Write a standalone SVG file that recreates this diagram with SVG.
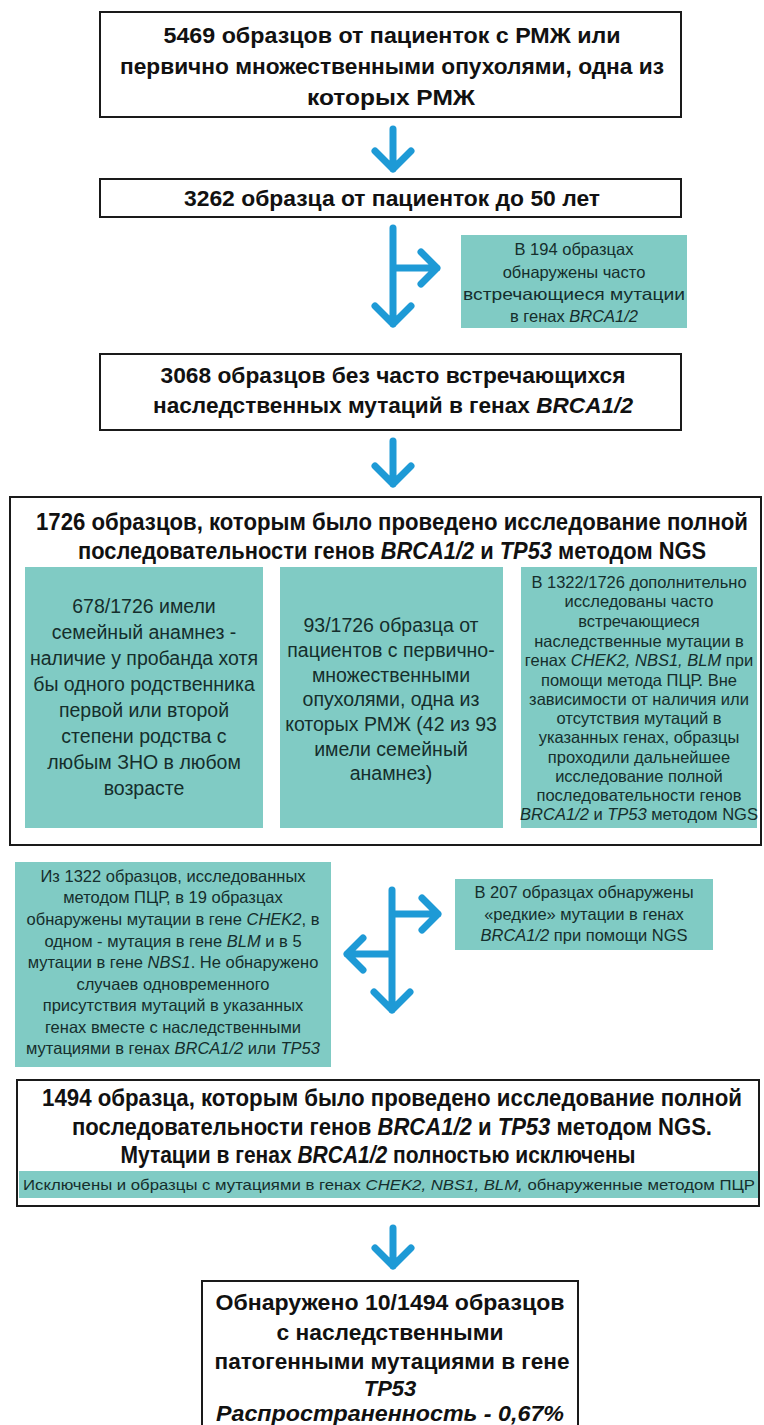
<svg xmlns="http://www.w3.org/2000/svg" width="764" height="1425" viewBox="0 0 764 1425">
<style>
.box{fill:#fff;stroke:#1a1a1a;stroke-width:2}
.gbox{fill:#80CBC4;stroke:none}
.h{font-family:"Liberation Sans",Arial,sans-serif;font-weight:bold;font-size:22px;fill:#111;text-anchor:middle}
.hn{font-family:"Liberation Sans Narrow","Liberation Sans",Arial,sans-serif;font-weight:bold;font-size:23px;fill:#111;text-anchor:middle}
.g{font-family:"Liberation Sans",Arial,sans-serif;font-size:19.5px;fill:#152e2c;text-anchor:middle}
.gs{font-family:"Liberation Sans",Arial,sans-serif;font-size:16.5px;fill:#152e2c;text-anchor:middle}
.arr{fill:none;stroke:#1E9AD6;stroke-width:7;stroke-linecap:round;stroke-linejoin:round}
</style>
<rect width="764" height="1425" fill="#fff"/>

<g id="n1">
<rect class="box" x="100" y="12" width="581" height="105"/>
<text class="h" x="392" y="43" textLength="457" lengthAdjust="spacingAndGlyphs">5469 образцов от пациенток с РМЖ или</text>
<text class="h" x="392" y="74" textLength="544" lengthAdjust="spacingAndGlyphs">первично множественными опухолями, одна из</text>
<text class="h" x="391" y="105" textLength="168" lengthAdjust="spacingAndGlyphs">которых РМЖ</text>
</g>

<g id="n2">
<rect class="box" x="100" y="179" width="581" height="38"/>
<text class="h" x="392" y="206" textLength="416" lengthAdjust="spacingAndGlyphs">3262 образца от пациенток до 50 лет</text>
</g>

<g id="n3">
<rect class="gbox" x="461" y="235" width="226" height="93"/>
<text class="gs" x="574" y="255" font-size="17.5">В 194 образцах</text>
<text class="gs" x="574" y="278" font-size="17.5">обнаружены часто</text>
<text class="gs" x="574" y="300" font-size="17.5" textLength="222" lengthAdjust="spacingAndGlyphs">встречающиеся мутации</text>
<text class="gs" x="574" y="322" font-size="17.5">в генах <tspan font-style="italic">BRCA1/2</tspan></text>
</g>

<g id="n4">
<rect class="box" x="100" y="354" width="581" height="76"/>
<text class="h" x="393" y="383" textLength="465" lengthAdjust="spacingAndGlyphs">3068 образцов без часто встречающихся</text>
<text class="h" x="393" y="413" textLength="480" lengthAdjust="spacingAndGlyphs">наследственных мутаций в генах <tspan font-style="italic">BRCA1/2</tspan></text>
</g>

<g id="n5">
<rect class="box" x="10" y="497" width="751" height="348"/>
<text class="hn" x="392" y="530" textLength="712" lengthAdjust="spacingAndGlyphs">1726 образцов, которым было проведено исследование полной</text>
<text class="hn" x="392" y="559" textLength="628" lengthAdjust="spacingAndGlyphs">последовательности генов <tspan font-style="italic">BRCA1/2</tspan> и <tspan font-style="italic">TP53</tspan> методом NGS</text>
</g>

<g id="n6">
<rect class="gbox" x="25" y="567" width="238" height="261"/>
<text class="g" x="144" y="613">678/1726 имели</text>
<text class="g" x="144" y="639">семейный анамнез -</text>
<text class="g" x="144" y="665">наличие у пробанда хотя</text>
<text class="g" x="144" y="691">бы одного родственника</text>
<text class="g" x="144" y="717">первой или второй</text>
<text class="g" x="144" y="743">степени родства с</text>
<text class="g" x="144" y="769">любым ЗНО в любом</text>
<text class="g" x="144" y="795">возрасте</text>
</g>

<g id="n7">
<rect class="gbox" x="280" y="567" width="223" height="261"/>
<text class="g" x="391" y="632" font-size="19">93/1726 образца от</text>
<text class="g" x="391" y="657" font-size="19">пациентов с первично-</text>
<text class="g" x="391" y="682" font-size="19">множественными</text>
<text class="g" x="391" y="706" font-size="19">опухолями, одна из</text>
<text class="g" x="391" y="731" font-size="19">которых РМЖ (42 из 93</text>
<text class="g" x="391" y="756" font-size="19">имели семейный</text>
<text class="g" x="391" y="780" font-size="19">анамнез)</text>
</g>

<g id="n8">
<rect class="gbox" x="521" y="567" width="236" height="261"/>
<text class="gs" x="639" y="588">В 1322/1726 дополнительно</text>
<text class="gs" x="639" y="607">исследованы часто</text>
<text class="gs" x="639" y="627">встречающиеся</text>
<text class="gs" x="639" y="647">наследственные мутации в</text>
<text class="gs" x="639" y="666">генах <tspan font-style="italic">CHEK2, NBS1, BLM</tspan> при</text>
<text class="gs" x="639" y="686">помощи метода ПЦР. Вне</text>
<text class="gs" x="639" y="705">зависимости от наличия или</text>
<text class="gs" x="639" y="724">отсутствия мутаций в</text>
<text class="gs" x="639" y="743">указанных генах, образцы</text>
<text class="gs" x="639" y="763">проходили дальнейшее</text>
<text class="gs" x="639" y="782">исследование полной</text>
<text class="gs" x="639" y="801">последовательности генов</text>
<text class="gs" x="639" y="820"><tspan font-style="italic">BRCA1/2</tspan> и <tspan font-style="italic">TP53</tspan> методом NGS</text>
</g>

<g id="n9">
<rect class="gbox" x="15" y="862" width="316" height="205"/>
<text class="gs" x="173" y="882" font-size="17">Из 1322 образцов, исследованных</text>
<text class="gs" x="173" y="903" font-size="17">методом ПЦР, в 19 образцах</text>
<text class="gs" x="173" y="925" font-size="17">обнаружены мутации в гене <tspan font-style="italic">CHEK2</tspan>, в</text>
<text class="gs" x="173" y="947" font-size="17">одном - мутация в гене <tspan font-style="italic">BLM</tspan> и в 5</text>
<text class="gs" x="173" y="968" font-size="17">мутации в гене <tspan font-style="italic">NBS1</tspan>. Не обнаружено</text>
<text class="gs" x="173" y="990" font-size="17">случаев одновременного</text>
<text class="gs" x="173" y="1011" font-size="17">присутствия мутаций в указанных</text>
<text class="gs" x="173" y="1033" font-size="17">генах вместе с наследственными</text>
<text class="gs" x="173" y="1054" font-size="17">мутациями в генах <tspan font-style="italic">BRCA1/2</tspan> или <tspan font-style="italic">TP53</tspan></text>
</g>

<g id="n10">
<rect class="gbox" x="455" y="879" width="258" height="71"/>
<text class="gs" x="584" y="898" font-size="17.5">В 207 образцах обнаружены</text>
<text class="gs" x="584" y="920" font-size="17.5">«редкие» мутации в генах</text>
<text class="gs" x="584" y="941" font-size="17.5"><tspan font-style="italic">BRCA1/2</tspan> при помощи NGS</text>
</g>

<g id="n11">
<rect class="box" x="17" y="1080" width="742" height="126"/>
<text class="hn" x="392" y="1106" textLength="700" lengthAdjust="spacingAndGlyphs">1494 образца, которым было проведено исследование полной</text>
<text class="hn" x="392" y="1135" textLength="640" lengthAdjust="spacingAndGlyphs">последовательности генов <tspan font-style="italic">BRCA1/2</tspan> и <tspan font-style="italic">TP53</tspan> методом NGS.</text>
<text class="hn" x="378" y="1163" textLength="515" lengthAdjust="spacingAndGlyphs">Мутации в генах <tspan font-style="italic">BRCA1/2</tspan> полностью исключены</text>
<rect class="gbox" x="19" y="1171" width="739" height="27"/>
<text x="389" y="1190" font-family="Liberation Sans Narrow,Liberation Sans,Arial,sans-serif" font-size="15" fill="#152e2c" text-anchor="middle" textLength="732" lengthAdjust="spacingAndGlyphs">Исключены и образцы с мутациями в генах <tspan font-style="italic">CHEK2, NBS1, BLM,</tspan> обнаруженные методом ПЦР</text>
</g>

<g id="n12">
<rect class="box" x="202" y="1281" width="376" height="152"/>
<text class="h" x="390" y="1310" textLength="349" lengthAdjust="spacingAndGlyphs">Обнаружено 10/1494 образцов</text>
<text class="h" x="390" y="1340" textLength="227" lengthAdjust="spacingAndGlyphs">с наследственными</text>
<text class="h" x="392" y="1369" textLength="355" lengthAdjust="spacingAndGlyphs">патогенными мутациями в гене</text>
<text class="h" x="390" y="1396" font-style="italic">TP53</text>
<text class="h" x="390" y="1421" font-style="italic" textLength="348" lengthAdjust="spacingAndGlyphs">Распространенность - 0,67%</text>
</g>

<g id="connectors">
<path class="arr" d="M393 129 V169 M375 151 L393 169 L411 151"/>
<path class="arr" d="M393 228 V324 M375 306 L393 324 L411 306 M393 268 H437 M421 252 L437 268 L421 284"/>
<path class="arr" d="M393 441 V484 M375 466 L393 484 L411 466"/>
<path class="arr" d="M392 890 V1010 M374 992 L392 1010 L410 992 M392 914 H438 M422 898 L438 914 L422 930 M392 954 H347 M363 938 L347 954 L363 970"/>
<path class="arr" d="M393 1228 V1266 M375 1248 L393 1266 L411 1248"/>
</g>
</svg>
